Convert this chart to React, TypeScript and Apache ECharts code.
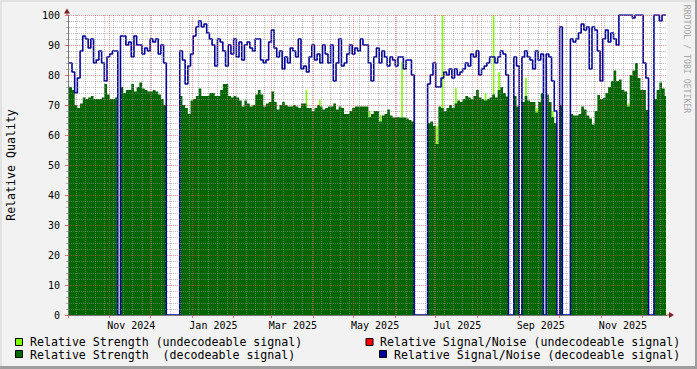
import React, { useEffect, useRef } from "react";
import * as echarts from "echarts";

const FONT = "'DejaVu Sans Mono', 'Liberation Mono', monospace";

// x axis in days since 2024-10-01
const DAY_MIN = -0.7;
const DAY_MAX = 444.7;
const SAMPLE_STEP = 2; // days per sample

const monthStartDays = [0, 31, 61, 92, 123, 151, 182, 212, 243, 273, 304, 335, 365, 396, 426];
const monthLabelDays = [47, 108, 167, 228, 289, 351, 412];
const monthLabels = ["Nov 2024", "Jan 2025", "Mar 2025", "May 2025", "Jul 2025", "Sep 2025", "Nov 2025"];
const FIRST_WEEK_DAY = 6;

// Relative Signal/Noise (decodeable signal), one value every 2 days
const snr = [
  84, 84, 81, 74, 79, 88, 93, 92, 89, 92,
  84, 85, 88, 84, 78, 86, 87, 88, 88, 0,
  93, 93, 90, 91, 86, 93, 90, 90, 87, 89,
  88, 92, 91, 92, 87, 90, 84, 0, 0, 0,
  0, 0, 88, 85, 77, 83, 87, 93, 96, 98,
  96, 97, 94, 92, 90, 83, 92, 91, 88, 83,
  90, 87, 92, 86, 91, 85, 90, 91, 89, 88,
  92, 92, 85, 84, 85, 91, 95, 89, 86, 88,
  82, 86, 84, 89, 88, 86, 92, 82, 83, 81,
  86, 90, 85, 87, 84, 90, 87, 84, 90, 78,
  84, 92, 83, 84, 87, 90, 87, 89, 88, 92,
  90, 90, 84, 78, 86, 89, 84, 88, 86, 83,
  86, 85, 83, 86, 86, 82, 85, 85, 80, 0,
  0, 0, 0, 0, 77, 80, 84, 76, 76, 79,
  81, 80, 82, 79, 82, 80, 81, 82, 84, 83,
  87, 86, 88, 80, 82, 83, 84, 86, 86, 84,
  86, 88, 87, 80, 0, 0, 86, 83, 0, 86,
  88, 86, 85, 82, 88, 85, 87, 0, 87, 86,
  78, 68, 0, 96, 0, 0, 0, 92, 91, 92,
  94, 97, 95, 96, 82, 96, 95, 88, 78, 92,
  95, 91, 94, 92, 90, 100, 100, 100, 100, 100,
  99, 100, 100, 100, 84, 79, 0, 0, 100, 100,
  98, 100, 100,
];

// Relative Strength (decodeable signal), one value every 2 days
const strength = [
  76.5, 76, 75, 70, 69, 70.5, 72.5, 72, 72.5, 73,
  72, 72, 72, 72.5, 77, 73.5, 72, 72, 72.5, 0,
  76, 74, 75, 75, 77, 74.5, 76, 77.5, 75.5, 75,
  74.5, 74.5, 75, 74.5, 73.5, 72, 70, 0, 0, 0,
  0, 0, 73, 70, 69, 67, 71.5, 72, 73, 75.5,
  73, 73, 73, 74, 74, 73, 73, 75, 77, 77,
  73, 72.5, 73, 72.5, 71.5, 69.5, 71.5, 70.5, 69.5, 70,
  73.5, 75, 73.5, 69.5, 70.5, 71, 74.5, 71, 68.5, 70,
  71, 70, 69.5, 69.5, 70, 69.5, 69, 70.5, 70.5, 69,
  69, 68, 69, 70, 69.5, 68.5, 69, 69.5, 69.5, 70.5,
  68.5, 69.5, 69, 67, 67, 68, 69, 69.5, 69.5, 69.5,
  69.5, 69.5, 66, 67, 68, 68, 64.5, 66.5, 67, 68.5,
  66.5, 65.8, 66, 65.8, 65.8, 65.8, 65.5, 65, 64.5, 0,
  0, 0, 0, 0, 64, 64.5, 63, 57, 69.5, 69,
  68, 69, 70, 69, 70.5, 71.5, 71, 72, 73, 72.5,
  72, 73, 75, 72.5, 72, 71.5, 72, 72.5, 73.5, 72.5,
  75, 76, 74, 72.8, 0, 0, 73, 69.5, 0, 71,
  73, 71.5, 71, 71, 67.5, 71, 74, 0, 73.5, 71,
  66, 64, 0, 70, 0, 0, 0, 67, 66.5, 66.5,
  67, 69.5, 68.5, 66.5, 65.5, 63.5, 68, 73.3, 72, 72.3,
  74, 76, 78, 81.5, 78, 78.5, 75, 74.5, 69.5, 80,
  81.5, 84, 79, 75, 75, 68.3, 0, 0, 72, 75,
  77.5, 75.5, 73,
];

// Relative Strength (undecodeable signal): only where it shows above the decodeable strength
const undecDays = [177, 187, 224, 232, 248, 274, 278, 288, 310, 316, 320, 340, 348, 360, 416];
const undecStrength = [75, 71.7, 68, 66.7, 84.4, 63, 100, 75.6, 73.9, 100, 81, 79, 69, 68, 70.6];

const LIME = "#80FF00";
const RED = "#FF0000";
const GREEN = "#006600";
const BLUE = "#000099";

const legendItems = [
  { name: "Relative Strength (undecodeable signal)", color: LIME, x: 15.5, y: 338.5, tx: 30, ty: 342 },
  { name: "Relative Signal/Noise (undecodeable signal)", color: RED, x: 366, y: 338.5, tx: 380, ty: 342 },
  { name: "Relative Strength  (decodeable signal)", color: GREEN, x: 15.5, y: 350.5, tx: 30, ty: 355 },
  { name: "Relative Signal/Noise (decodeable signal)", color: BLUE, x: 379.5, y: 350.5, tx: 394, ty: 355 },
];

const GRID_MINOR = "rgba(143,143,143,0.6)";
const GRID_MAJOR = "rgba(222,79,79,0.6)";
const ARROW = "#801F1F";

export default function App() {
  const ref = useRef<HTMLDivElement>(null);
  useEffect(() => {
    document.body.style.margin = "0";
    if (!ref.current) return;
    const chart = echarts.init(ref.current, undefined, { renderer: "svg" });

    const weekDays: number[] = [];
    for (let d = FIRST_WEEK_DAY; d <= DAY_MAX; d += 7) weekDays.push(d);

    const strengthData = strength.map((v, i) => [i * SAMPLE_STEP, v]);
    const snrData = snr.map((v, i) => [i * SAMPLE_STEP, v]);
    const undecData = undecDays.map((d, i) => [d, undecStrength[i]]);

    const graphic: any[] = [
      { type: "rect", shape: { x: 0, y: 0, width: 697, height: 2 }, style: { fill: "#E2E2E2" }, silent: true },
      { type: "rect", shape: { x: 0, y: 0, width: 2, height: 369 }, style: { fill: "#E2E2E2" }, silent: true },
      { type: "rect", shape: { x: 0, y: 366, width: 697, height: 3 }, style: { fill: "#9E9E9E" }, silent: true },
      { type: "rect", shape: { x: 695, y: 0, width: 2, height: 369 }, style: { fill: "#9E9E9E" }, silent: true },
      // axis arrows
      { type: "line", shape: { x1: 67, y1: 15, x2: 67, y2: 12 }, style: { stroke: "#777", lineWidth: 1 }, silent: true },
      { type: "polygon", shape: { points: [[67, 8.5], [64, 13.5], [70, 13.5]] }, style: { fill: ARROW }, silent: true },
      { type: "line", shape: { x1: 667, y1: 315, x2: 670, y2: 315 }, style: { stroke: "#777", lineWidth: 1 }, silent: true },
      { type: "polygon", shape: { points: [[674, 315], [669, 312], [669, 318]] }, style: { fill: ARROW }, silent: true },
      {
        type: "text",
        x: 687,
        y: 59,
        rotation: -Math.PI / 2,
        style: {
          text: "RRDTOOL / TOBI OETIKER",
          font: `8.2px ${FONT}`,
          fill: "#A8A8A8",
          textAlign: "center",
          textVerticalAlign: "middle",
        },
        silent: true,
      },
    ];
    legendItems.forEach((it) => {
      graphic.push({
        type: "rect",
        shape: { x: it.x, y: it.y, width: 7, height: 7 },
        style: { fill: it.color, stroke: "#000", lineWidth: 1 },
        silent: true,
      });
      graphic.push({
        type: "text",
        x: it.tx,
        y: it.ty,
        style: {
          text: it.name,
          font: `11.6px ${FONT}`,
          fill: "#000",
          textAlign: "left",
          textVerticalAlign: "middle",
        },
        silent: true,
      });
    });

    const option: any = {
      animation: false,
      backgroundColor: "#F2F2F2",
      textStyle: { fontFamily: FONT },
      grid: {
        left: 67,
        top: 15,
        width: 600,
        height: 300,
        show: true,
        backgroundColor: "#FFFFFF",
        borderWidth: 0,
        containLabel: false,
        outerBoundsMode: "none",
      },
      xAxis: [
        {
          type: "value",
          min: DAY_MIN,
          max: DAY_MAX,
          z: 4,
          position: "bottom",
          axisLine: { show: true, onZero: false, lineStyle: { color: "#777", width: 1 } },
          axisTick: {
            show: true,
            customValues: monthStartDays,
            length: 3,
            lineStyle: { color: "rgba(222,79,79,0.8)" },
          },
          axisLabel: {
            show: true,
            customValues: monthLabelDays,
            formatter: (v: number) => {
              const k = monthLabelDays.indexOf(v);
              return k >= 0 ? monthLabels[k] : "";
            },
            fontFamily: FONT,
            fontSize: 10,
            color: "#000",
            margin: 5,
          },
          splitLine: { show: true, lineStyle: { color: GRID_MAJOR, type: [1, 1], width: 1 } },
        },
        {
          type: "value",
          min: DAY_MIN,
          max: DAY_MAX,
          z: 3,
          position: "bottom",
          axisLine: { show: false },
          axisTick: { show: false, customValues: weekDays },
          axisLabel: { show: false },
          splitLine: { show: true, lineStyle: { color: GRID_MINOR, type: [1, 1], width: 1 } },
        },
      ],
      yAxis: {
        type: "value",
        min: 0,
        max: 100,
        interval: 10,
        z: 4,
        name: "Relative Quality",
        nameLocation: "middle",
        nameGap: 50,
        nameRotate: 90,
        nameTextStyle: { fontFamily: FONT, fontSize: 11.6, color: "#000" },
        axisLine: { show: true, lineStyle: { color: "#777", width: 1 } },
        axisTick: { show: true, length: 3, lineStyle: { color: "rgba(222,79,79,0.8)" } },
        minorTick: { show: true, splitNumber: 5, length: 2, lineStyle: { color: GRID_MINOR } },
        axisLabel: { fontFamily: FONT, fontSize: 10, color: "#000", margin: 7 },
        splitLine: { show: true, lineStyle: { color: GRID_MAJOR, type: [1, 1], width: 1 } },
        minorSplitLine: { show: true, lineStyle: { color: GRID_MINOR, type: [1, 1], width: 1 } },
      },
      series: [
        {
          name: "Relative Strength (undecodeable signal)",
          type: "bar",
          xAxisIndex: 0,
          data: undecData,
          barWidth: 1.6,
          itemStyle: { color: LIME },
          z: 1,
        },
        {
          name: "Relative Strength (decodeable signal)",
          type: "line",
          xAxisIndex: 0,
          step: "middle",
          data: strengthData,
          symbol: "none",
          lineStyle: { width: 0, opacity: 0 },
          areaStyle: { color: GREEN, opacity: 1 },
          z: 2,
        },
        {
          name: "Relative Signal/Noise (decodeable signal)",
          type: "line",
          xAxisIndex: 0,
          step: "middle",
          data: snrData,
          symbol: "none",
          lineStyle: { width: 1.6, color: BLUE },
          z: 2,
        },
      ],
      graphic,
    };
    chart.setOption(option);
    return () => chart.dispose();
  }, []);
  return <div ref={ref} style={{ width: 697, height: 369 }} />;
}
